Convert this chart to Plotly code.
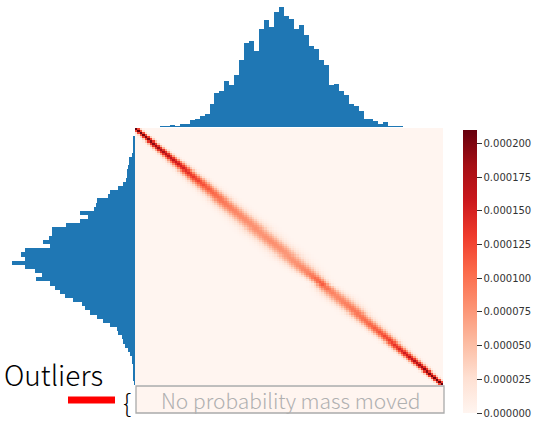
import numpy as np
import plotly.graph_objects as go
import plotly.colors as pc

# marginal histograms (counts per bin, 62 bins)
top_counts = [0, 0, 0, 0, 0, 2, 1, 7, 3, 8, 8, 22, 25, 34, 38, 69, 103, 108, 139, 127,
              155, 200, 252, 257, 228, 295, 322, 300, 345, 360, 332, 325, 295, 305, 275,
              242, 235, 202, 185, 125, 128, 108, 95, 70, 62, 47, 25, 23, 18, 10, 15, 2,
              2, 1, 0, 0, 0, 0, 0, 0, 0, 0]
left_counts = [0, 0, 5, 5, 6, 7, 10, 17, 19, 21, 23, 25, 27, 35, 50, 75, 80, 115, 118, 123,
               165, 140, 165, 207, 250, 250, 257, 277, 255, 330, 343, 330, 370, 330, 300,
               280, 297, 255, 240, 225, 210, 185, 160, 150, 135, 115, 95, 75, 55, 50, 40,
               35, 30, 20, 15, 10, 10, 7, 7, 5, 5, 2]

# transport plan band, read row by row along the diagonal
band_peak = [210, 205, 200, 195, 188, 180, 172, 165, 158, 150, 142, 135,
             128, 120, 114, 108, 103, 98, 94, 90, 87, 84,
             82, 80, 80, 78, 80, 82, 80, 78, 76, 78,
             80, 84, 88, 95, 105, 112, 100, 90, 86, 88,
             92, 95, 98, 100, 104, 108, 112, 118, 124, 130,
             138, 146, 155, 164, 174, 184, 192, 198, 204, 210]  # x 1e-6
band_width = [1.0, 1.0, 1.1, 1.2, 1.3, 1.4, 1.5, 1.6, 1.8, 1.9, 2.0, 2.1,
              2.3, 2.4, 2.5, 2.6, 2.7, 2.8, 2.9, 3.0, 3.0, 3.1,
              3.2, 3.3, 3.3, 3.4, 3.3, 3.2, 3.3, 3.4, 3.4, 3.3,
              3.1, 3.0, 2.8, 2.5, 2.2, 2.0, 2.4, 2.7, 2.9, 2.9,
              2.8, 2.7, 2.6, 2.5, 2.4, 2.3, 2.2, 2.1, 2.0, 1.9,
              1.8, 1.7, 1.6, 1.5, 1.4, 1.3, 1.2, 1.1, 1.0, 1.0]

cbar_ticks = [0, 0.000025, 0.00005, 0.000075, 0.0001, 0.000125, 0.00015, 0.000175, 0.0002]

# build the plan matrix on a finer grid
n = 2 * len(band_peak)
cols = np.arange(n)
plan = np.zeros((n, n))
for r in range(n):
    k = r // 2
    plan[r] = band_peak[k] * 1e-6 * np.exp(-0.5 * ((cols - r) / band_width[k]) ** 2)

W, H = 545, 427
hx0, hx1 = 135 / W, 443 / W
hy0, hy1 = (H - 385) / H, (H - 128) / H

reds = pc.sequential.Reds
cscale = [[i / (len(reds) - 1), c] for i, c in enumerate(reds)]
blue = "#1f77b4"

fig = go.Figure()

fig.add_trace(go.Heatmap(
    z=plan, colorscale=cscale, zmin=0, zmax=0.00021,
    xaxis="x", yaxis="y",
    colorbar=dict(
        x=463 / W, xanchor="left", xpad=0,
        y=(H - 130) / H, yanchor="top", ypad=0,
        len=283, lenmode="pixels", thickness=14, outlinewidth=0,
        tickvals=cbar_ticks, ticktext=["%.6f" % t for t in cbar_ticks],
        ticks="outside", ticklen=5, tickcolor="#333",
        tickfont=dict(family="DejaVu Sans", size=10, color="#333"),
    ),
))

fig.add_trace(go.Bar(
    x=list(range(len(top_counts))), y=top_counts,
    marker=dict(color=blue, line=dict(width=0)),
    xaxis="x2", yaxis="y2", showlegend=False,
))

fig.add_trace(go.Bar(
    y=list(range(len(left_counts))), x=left_counts, orientation="h",
    marker=dict(color=blue, line=dict(width=0)),
    xaxis="x3", yaxis="y3", showlegend=False,
))

fig.update_layout(
    width=W, height=H,
    margin=dict(l=0, r=0, t=0, b=0),
    paper_bgcolor="white", plot_bgcolor="white",
    bargap=0, showlegend=False,
    xaxis=dict(domain=[hx0, hx1], range=[-0.5, n - 0.5], visible=False),
    yaxis=dict(domain=[hy0, hy1], range=[n - 0.5, -0.5], visible=False),
    xaxis2=dict(domain=[hx0, hx1], range=[-0.5, 61.5], visible=False, anchor="y2"),
    yaxis2=dict(domain=[(H - 127) / H, 1], range=[0, 381], visible=False, anchor="x2"),
    xaxis3=dict(domain=[0, hx0], range=[405, 0], visible=False, anchor="y3"),
    yaxis3=dict(domain=[hy0, hy1], range=[61.5, -0.5], visible=False, anchor="x3"),
)

# outlier annotation below the plan
fig.add_shape(type="rect", xref="paper", yref="paper",
              x0=136 / W, x1=444 / W, y0=(H - 413) / H, y1=(H - 386) / H,
              fillcolor="#fff5f0", line=dict(color="#aaaaaa", width=1.3))
fig.add_annotation(x=290 / W, y=(H - 400) / H, xref="paper", yref="paper",
                   xanchor="center", yanchor="middle",
                   text="No probability mass moved", showarrow=False,
                   font=dict(family="Noto Sans CJK JP", size=21, color="#b0b0b0", weight=300))
fig.add_shape(type="line", xref="paper", yref="paper",
              x0=68 / W, x1=115 / W, y0=(H - 400) / H, y1=(H - 400) / H,
              line=dict(color="red", width=7))
fig.add_annotation(x=127 / W, y=(H - 401) / H, xref="paper", yref="paper",
                   xanchor="center", yanchor="middle",
                   text="{", showarrow=False,
                   font=dict(family="Noto Sans CJK JP", size=26, color="black", weight=300))
fig.add_annotation(x=2 / W, y=(H - 374) / H, xref="paper", yref="paper",
                   xanchor="left", yanchor="middle", text="Outliers", showarrow=False,
                   font=dict(family="Noto Sans CJK JP", size=28, color="black", weight=300))

fig.write_html("out.html", post_script="document.body.style.margin='0';",
               config={"displayModeBar": False})
